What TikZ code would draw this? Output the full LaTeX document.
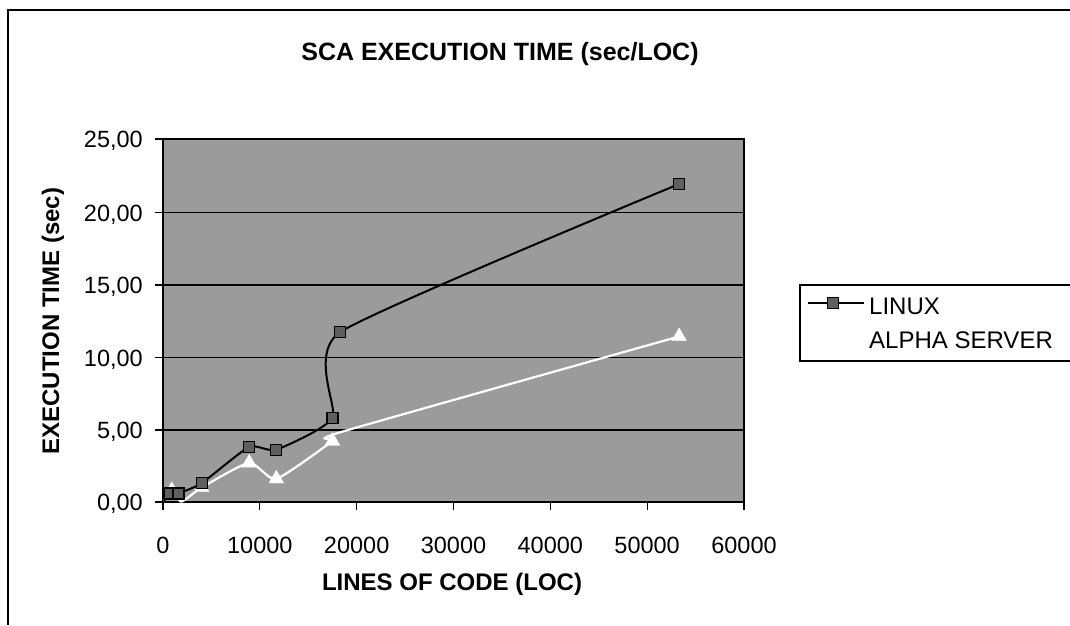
\documentclass[tikz,border=0pt]{standalone}
\usepackage{fontspec}
\setmainfont{Liberation Sans}
\usetikzlibrary{shapes.geometric}
\definecolor{plotbg}{RGB}{155,155,155}
\definecolor{markfill}{RGB}{95,95,95}
\tikzset{
  frameline/.style={black, line width=1.2pt},
  gridline/.style={black, line width=1.1pt},
  tickline/.style={black, line width=1.1pt},
  ticklabel/.style={font=\fontsize{23.5}{26}\selectfont, inner sep=0pt},
  axistitle/.style={font=\bfseries\fontsize{24}{27}\selectfont, inner sep=0pt},
  linuxline/.style={black, line width=2pt},
  alphaline/.style={white, line width=2.2pt},
  sqmark/.style={draw=black, fill=markfill, line width=1.4pt, minimum size=11pt, inner sep=0pt, rectangle},
  trimark/.style={fill=white, draw=white, regular polygon, regular polygon sides=3, minimum size=17pt, inner sep=0pt},
  legendtext/.style={font=\fontsize{24}{27}\selectfont, inner sep=0pt, anchor=west}
}
\begin{document}
\begin{tikzpicture}[x=1pt, y=-1pt]
  \useasboundingbox (0,0) rectangle (1070,625);
  \fill[white] (0,0) rectangle (1070,625);
  % outer chart frame (left and top edges)
  \draw[frameline] (8,625) -- (8,10) -- (1070,10);

  % title
  \node[font=\bfseries\fontsize{25}{29}\selectfont, inner sep=0pt] (title) at (500,54) {SCA EXECUTION TIME (sec/LOC)};

  % plot area
  \fill[plotbg] (163,139) rectangle (744,502);
  \foreach \yy in {212.4,285,357.4,430} {
    \draw[gridline] (163,\yy) -- (744,\yy);
  }
  \draw[gridline] (163,139) rectangle (744,502);

  % y ticks and labels
  \foreach \v/\yy in {{0,00}/502,{5,00}/430,{10,00}/357.4,{15,00}/285,{20,00}/212.4,{25,00}/139} {
    \draw[tickline] (155,\yy) -- (163,\yy);
    \node[ticklabel, anchor=east] at (143,\yy+2) {\v};
  }
  % x ticks and labels
  \foreach \i in {0,...,6} {
    \pgfmathsetmacro{\xx}{163+\i*96.83}
    \draw[tickline] (\xx,502) -- (\xx,510);
  }
  \foreach \lab [count=\i from 0] in {0,10000,20000,30000,40000,50000,60000} {
    \pgfmathsetmacro{\xx}{163+\i*96.83}
    \node[ticklabel] at (\xx,545) {\lab};
  }

  % axis titles
  \node[axistitle, rotate=90] (ytitle) at (53,321) {EXECUTION TIME (sec)};
  \node[axistitle] (xtitle) at (452,584) {LINES OF CODE (LOC)};

  % data, LOC in thousands
  \begin{scope}[shift={(163,502)}, x=9.683pt, y=14.52pt]
    \coordinate (a1) at (0.1,0.05);
    \coordinate (a2) at (0.9,0.8);
    \coordinate (a3) at (1.9,0.03);
    \coordinate (a4) at (4.0,1.0);
    \coordinate (a5) at (8.9,2.7);
    \coordinate (a6) at (11.7,1.6);
    \coordinate (a7) at (17.5,4.2);
    \coordinate (a8) at (18.3,4.8);
    \coordinate (a9) at (53.3,11.4);
    \coordinate (l1) at (0.1,0.05);
    \coordinate (l2) at (0.7,0.6);
    \coordinate (l3) at (1.6,0.6);
    \coordinate (l4) at (4.0,1.3);
    \coordinate (l5) at (8.9,3.8);
    \coordinate (l6) at (11.7,3.6);
    \coordinate (l7) at (17.5,5.8);
    \coordinate (l8) at (18.3,11.7);
    \coordinate (l9) at (53.3,21.9);
  \end{scope}

  % ALPHA SERVER series
  \draw[alphaline] plot[smooth, tension=0.35] coordinates {(a1) (a2) (a3) (a4) (a5) (a6) (a7) (a8) (a9)};
  \foreach \p in {a2,a4,a5,a6,a7,a9} {
    \node[trimark] (m\p) at (\p) {};
  }
  % LINUX series
  \draw[linuxline] plot[smooth, tension=0.32] coordinates {(l1) (l2) (l3) (l4) (l5) (l6) (l7) (l8) (l9)};
  \foreach \p in {l2,l3,l4,l5,l6,l7,l8,l9} {
    \node[sqmark] (m\p) at (\p) {};
  }

  % legend
  \draw[frameline] (1075,285) -- (800,285) -- (800,361) -- (1075,361);
  \coordinate (lg1) at (808,303);
  \coordinate (lg2) at (864,303);
  \draw[linuxline, line width=1.6pt] (lg1) -- (lg2);
  \node[sqmark] (lgm) at (833,303) {};
  \node[legendtext] (lgt1) at (869,306) {LINUX};
  \node[legendtext] (lgt2) at (869,340) {ALPHA SERVER};
\end{tikzpicture}
\end{document}
